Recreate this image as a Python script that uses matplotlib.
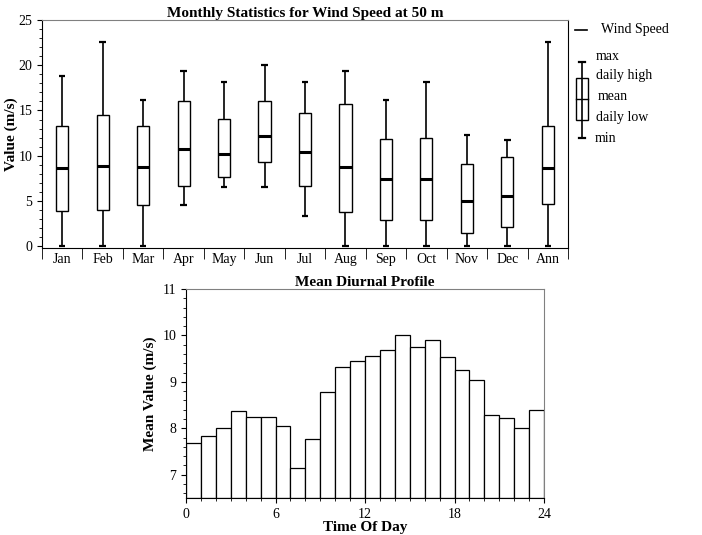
import numpy as np
import matplotlib.pyplot as plt
from matplotlib.ticker import MultipleLocator

plt.rcParams['font.family'] = ['Liberation Serif', 'DejaVu Serif']
plt.rcParams['font.size'] = 10

months = ["Jan", "Feb", "Mar", "Apr", "May", "Jun", "Jul", "Aug", "Sep", "Oct", "Nov", "Dec", "Ann"]
v_min = [0, 0, 0, 4.5, 6.5, 6.5, 3.3, 0, 0, 0, 0, 0, 0]
v_low = [3.9, 4.0, 4.5, 6.6, 7.7, 9.3, 6.6, 3.8, 2.9, 2.9, 1.5, 2.1, 4.7]
v_mean = [8.6, 8.9, 8.8, 10.7, 10.2, 12.2, 10.4, 8.8, 7.4, 7.4, 5.0, 5.5, 8.6]
v_high = [13.3, 14.5, 13.3, 16.0, 14.1, 16.0, 14.7, 15.7, 11.8, 12.0, 9.1, 9.9, 13.3]
v_max = [18.8, 22.6, 16.2, 19.4, 18.1, 20.0, 18.1, 19.4, 16.2, 18.1, 12.3, 11.7, 22.6]

hours = np.arange(24)
diurnal = [7.68, 7.84, 8.0, 8.37, 8.25, 8.25, 8.06, 7.15, 7.78, 8.78, 9.31, 9.46,
           9.56, 9.68, 10.02, 9.75, 9.9, 9.53, 9.25, 9.03, 8.28, 8.22, 8.0, 8.4]

fig = plt.figure(figsize=(7.02, 5.35), dpi=100)
W, H = 702, 535

ax = fig.add_axes([42 / W, 1 - 248 / H, (568 - 42) / W, (248 - 20) / H])
x = np.arange(len(months))
bw = 0.3
for i in x:
    ax.vlines(i, v_min[i], v_low[i], color='k', lw=1.2)
    ax.vlines(i, v_high[i], v_max[i], color='k', lw=1.2)
    ax.hlines([v_min[i], v_max[i]], i - 0.08, i + 0.08, color='k', lw=1.6)
    ax.add_patch(plt.Rectangle((i - bw / 2, v_low[i]), bw, v_high[i] - v_low[i],
                               fill=False, ec='k', lw=1.0))
    ax.hlines(v_mean[i], i - bw / 2, i + bw / 2, color='k', lw=2.2)
ax.set_xlim(-0.5, len(months) - 0.5)
ax.set_ylim(-0.2, 25)
ax.set_xticks(x)
ax.set_xticklabels(months)
ax.set_xticks(np.arange(-0.5, len(months)), minor=True)
ax.tick_params(axis='x', which='major', length=0)
ax.tick_params(axis='x', which='minor', length=8)
ax.yaxis.set_major_locator(MultipleLocator(5))
ax.yaxis.set_minor_locator(MultipleLocator(1))
ax.tick_params(axis='y', which='minor', length=2)
ax.tick_params(labelsize=10)
ax.set_ylabel("Value (m/s)", fontweight='bold', fontsize=11, labelpad=1)
ax.yaxis.set_label_coords(-0.045, 0.5)
ax.set_title("Monthly Statistics for Wind Speed at 50 m", fontweight='bold', fontsize=11, pad=2)
ax.spines['top'].set_color('gray')

# legend schematic
fig.lines.append(plt.Line2D([575 / W, 587 / W], [1 - 30 / H] * 2, color='k', lw=1.2, transform=fig.transFigure))
fig.text(601 / W, 1 - 30 / H, "Wind Speed", va='center', fontsize=10)
lx = 582 / W
fig.lines.append(plt.Line2D([lx, lx], [1 - 62 / H, 1 - 138 / H], color='k', lw=1.2, transform=fig.transFigure))
for yy in (62, 138):
    fig.lines.append(plt.Line2D([lx - 3 / W, lx + 3 / W], [1 - yy / H] * 2, color='k', lw=1.6, transform=fig.transFigure))
fig.patches.append(plt.Rectangle((576 / W, 1 - 120 / H), 12 / W, 42 / H, fill=True, fc='white', ec='k',
                                 lw=1.0, transform=fig.transFigure))
fig.lines.append(plt.Line2D([576 / W, 588 / W], [1 - 99 / H] * 2, color='k', lw=1.0, transform=fig.transFigure))
for label, xx, yy in [("max", 596, 57), ("daily high", 596, 76), ("mean", 598, 97),
                      ("daily low", 596, 117), ("min", 595, 138)]:
    fig.text(xx / W, 1 - yy / H, label, va='center', fontsize=10)

ax2 = fig.add_axes([186 / W, 1 - 498 / H, (544 - 186) / W, (498 - 289) / H])
ax2.bar(hours, np.array(diurnal) - 6.5, bottom=6.5, width=1.0, align='edge',
        fc='white', ec='k', lw=0.9)
ax2.set_xlim(0, 24)
ax2.set_ylim(6.5, 11)
ax2.set_xticks([0, 6, 12, 18, 24])
ax2.xaxis.set_minor_locator(MultipleLocator(1))
ax2.yaxis.set_major_locator(MultipleLocator(1))
ax2.yaxis.set_minor_locator(MultipleLocator(0.2))
ax2.tick_params(which='minor', length=2)
ax2.set_xlabel("Time Of Day", fontweight='bold', fontsize=11, labelpad=0)
ax2.set_ylabel("Mean Value (m/s)", fontweight='bold', fontsize=11)
ax2.set_title("Mean Diurnal Profile", fontweight='bold', fontsize=11, pad=2)
ax2.spines['top'].set_color('gray')
ax2.spines['right'].set_color('gray')

fig.savefig("out.png", dpi=100)
